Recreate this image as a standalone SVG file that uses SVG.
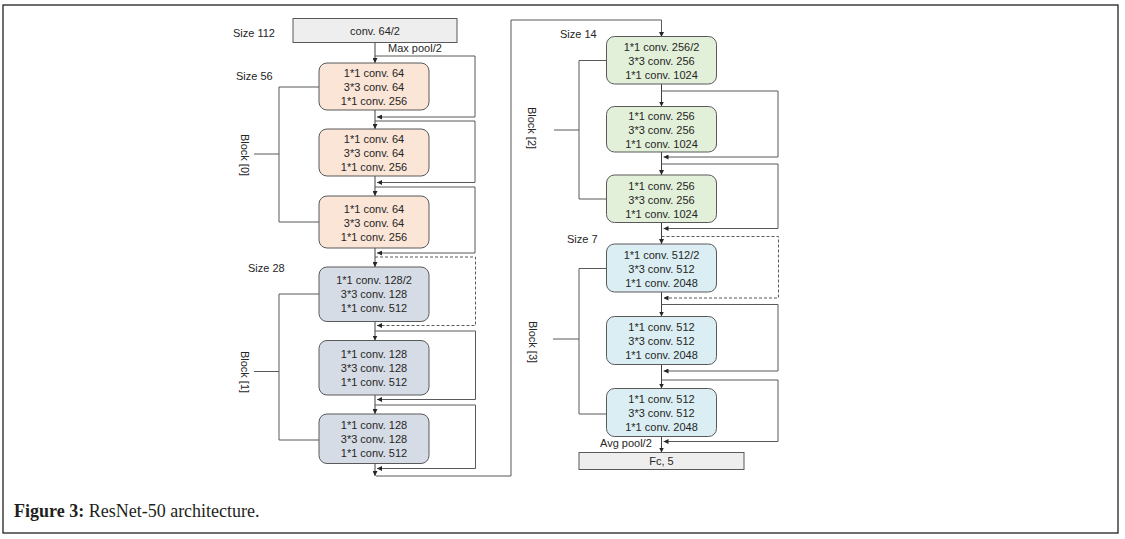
<svg xmlns="http://www.w3.org/2000/svg" width="1125" height="539" viewBox="0 0 1125 539">
<style>
.bg{fill:#ffffff}
.frame{fill:none;stroke:#231f20;stroke-width:1.3}
.box{stroke:#595959;stroke-width:1}
.o{fill:#fbe5d6}
.b{fill:#d6dce5}
.g{fill:#e2f0d9}
.c{fill:#daeef3}
.gr{fill:#eeeeee}
.t{font-family:"Liberation Sans",Arial,sans-serif;font-size:11px;fill:#262626;text-anchor:middle}
.l{font-family:"Liberation Sans",Arial,sans-serif;font-size:11px;fill:#262626}
.ln{fill:none;stroke:#404040;stroke-width:1}
.sk{fill:none;stroke:#595959;stroke-width:1}
.ds{fill:none;stroke:#595959;stroke-width:1;stroke-dasharray:3 2}
.cap{font-family:"Liberation Serif","Times New Roman",serif;font-size:18px;fill:#231f20}
</style>
<defs>
<marker id="ah" viewBox="0 0 6 6" refX="6" refY="3" markerWidth="5" markerHeight="5" markerUnits="userSpaceOnUse" orient="auto">
<path d="M0,0 L6,3 L0,6 Z" fill="#262626"/>
</marker>
</defs>
<rect class="bg" x="0" y="0" width="1125" height="539"/>
<rect class="frame" x="3" y="5" width="1115" height="528"/>

<g id="connectors">
<!-- left column main flow -->
<line class="ln" x1="375" y1="42.5" x2="375" y2="63" marker-end="url(#ah)"/>
<line class="ln" x1="375" y1="110" x2="375" y2="129" marker-end="url(#ah)"/>
<line class="ln" x1="375" y1="176" x2="375" y2="196" marker-end="url(#ah)"/>
<line class="ln" x1="375" y1="248" x2="375" y2="267" marker-end="url(#ah)"/>
<line class="ln" x1="375" y1="321.5" x2="375" y2="340.5" marker-end="url(#ah)"/>
<line class="ln" x1="375" y1="395" x2="375" y2="414" marker-end="url(#ah)"/>
<line class="ln" x1="375" y1="463.5" x2="375" y2="476" marker-end="url(#ah)"/>
<!-- left skips -->
<polyline class="sk" points="375,56 475,56 475,117 377,117" marker-end="url(#ah)"/>
<polyline class="sk" points="375,121 475,121 475,182.5 377,182.5" marker-end="url(#ah)"/>
<polyline class="sk" points="375,187 475,187 475,253 377,253" marker-end="url(#ah)"/>
<polyline class="ds" points="375,257 475.5,257 475.5,325.5 377,325.5" marker-end="url(#ah)"/>
<polyline class="sk" points="375,331 475.5,331 475.5,399.5 377,399.5" marker-end="url(#ah)"/>
<polyline class="sk" points="375,405 475.5,405 475.5,468.5 377,468.5" marker-end="url(#ah)"/>
<!-- link to right column -->
<polyline class="sk" points="376,476 511,476 511,20 661.5,20 661.5,37" marker-end="url(#ah)"/>
<!-- right column main flow -->
<line class="ln" x1="661.5" y1="84" x2="661.5" y2="106.5" marker-end="url(#ah)"/>
<line class="ln" x1="661.5" y1="152" x2="661.5" y2="175" marker-end="url(#ah)"/>
<line class="ln" x1="661.5" y1="222.5" x2="661.5" y2="244" marker-end="url(#ah)"/>
<line class="ln" x1="661.5" y1="292" x2="661.5" y2="316.5" marker-end="url(#ah)"/>
<line class="ln" x1="661.5" y1="364.5" x2="661.5" y2="388.5" marker-end="url(#ah)"/>
<line class="ln" x1="661.5" y1="436.5" x2="661.5" y2="452.5" marker-end="url(#ah)"/>
<!-- right skips -->
<polyline class="sk" points="661.5,91 778,91 778,157 663.5,157" marker-end="url(#ah)"/>
<polyline class="sk" points="661.5,164 778,164 778,228.5 663.5,228.5" marker-end="url(#ah)"/>
<polyline class="ds" points="661.5,236.5 778.5,236.5 778.5,298 663.5,298" marker-end="url(#ah)"/>
<polyline class="sk" points="661.5,304.5 778,304.5 778,371 663.5,371" marker-end="url(#ah)"/>
<polyline class="sk" points="661.5,380 778,380 778,441.5 663.5,441.5" marker-end="url(#ah)"/>
<!-- block brackets -->
<polyline class="sk" points="319,87 279,87 279,222 319,222"/>
<line class="sk" x1="254" y1="154" x2="279" y2="154"/>
<polyline class="sk" points="319,294 279,294 279,440 319,440"/>
<line class="sk" x1="254" y1="371.5" x2="279" y2="371.5"/>
<polyline class="sk" points="607,60.5 579,60.5 579,199 607,199"/>
<line class="sk" x1="554" y1="130" x2="579" y2="130"/>
<polyline class="sk" points="607,268.5 579,268.5 579,414 607,414"/>
<line class="sk" x1="553" y1="339" x2="579" y2="339"/>
</g>

<g id="conv1">
<rect class="box gr" x="293" y="18.5" width="164" height="24"/>
<text class="t" x="375" y="34.5">conv. 64/2</text>
</g>

<g id="b0_1">
<rect class="box o" x="319" y="63" width="110" height="47" rx="8"/>
<text class="t" x="374" y="77.3">1*1 conv. 64</text>
<text class="t" x="374" y="91.3">3*3 conv. 64</text>
<text class="t" x="374" y="105.3">1*1 conv. 256</text>
</g>
<g id="b0_2">
<rect class="box o" x="319" y="129" width="110" height="47" rx="8"/>
<text class="t" x="374" y="143.3">1*1 conv. 64</text>
<text class="t" x="374" y="157.3">3*3 conv. 64</text>
<text class="t" x="374" y="171.3">1*1 conv. 256</text>
</g>
<g id="b0_3">
<rect class="box o" x="319" y="196" width="110" height="52" rx="8"/>
<text class="t" x="374" y="212.8">1*1 conv. 64</text>
<text class="t" x="374" y="226.8">3*3 conv. 64</text>
<text class="t" x="374" y="240.8">1*1 conv. 256</text>
</g>

<g id="b1_1">
<rect class="box b" x="319" y="267" width="110" height="54.5" rx="8"/>
<text class="t" x="374" y="284">1*1 conv. 128/2</text>
<text class="t" x="374" y="298">3*3 conv. 128</text>
<text class="t" x="374" y="312">1*1 conv. 512</text>
</g>
<g id="b1_2">
<rect class="box b" x="319" y="340.5" width="110" height="54.5" rx="8"/>
<text class="t" x="374" y="357.5">1*1 conv. 128</text>
<text class="t" x="374" y="371.5">3*3 conv. 128</text>
<text class="t" x="374" y="385.5">1*1 conv. 512</text>
</g>
<g id="b1_3">
<rect class="box b" x="319" y="414" width="110" height="49.5" rx="8"/>
<text class="t" x="374" y="428.5">1*1 conv. 128</text>
<text class="t" x="374" y="442.5">3*3 conv. 128</text>
<text class="t" x="374" y="456.5">1*1 conv. 512</text>
</g>

<g id="b2_1">
<rect class="box g" x="606.5" y="36.5" width="110" height="47.5" rx="8"/>
<text class="t" x="661.5" y="51">1*1 conv. 256/2</text>
<text class="t" x="661.5" y="65">3*3 conv. 256</text>
<text class="t" x="661.5" y="79">1*1 conv. 1024</text>
</g>
<g id="b2_2">
<rect class="box g" x="606.5" y="106.5" width="110" height="45.5" rx="8"/>
<text class="t" x="661.5" y="120">1*1 conv. 256</text>
<text class="t" x="661.5" y="134">3*3 conv. 256</text>
<text class="t" x="661.5" y="148">1*1 conv. 1024</text>
</g>
<g id="b2_3">
<rect class="box g" x="606.5" y="175" width="110" height="47.5" rx="8"/>
<text class="t" x="661.5" y="189.5">1*1 conv. 256</text>
<text class="t" x="661.5" y="203.5">3*3 conv. 256</text>
<text class="t" x="661.5" y="217.5">1*1 conv. 1024</text>
</g>

<g id="b3_1">
<rect class="box c" x="606.5" y="244" width="110" height="48" rx="8"/>
<text class="t" x="661.5" y="258.5">1*1 conv. 512/2</text>
<text class="t" x="661.5" y="272.5">3*3 conv. 512</text>
<text class="t" x="661.5" y="286.5">1*1 conv. 2048</text>
</g>
<g id="b3_2">
<rect class="box c" x="606.5" y="316.5" width="110" height="48" rx="8"/>
<text class="t" x="661.5" y="330.5">1*1 conv. 512</text>
<text class="t" x="661.5" y="344.5">3*3 conv. 512</text>
<text class="t" x="661.5" y="358.5">1*1 conv. 2048</text>
</g>
<g id="b3_3">
<rect class="box c" x="606.5" y="388.5" width="110" height="48" rx="8"/>
<text class="t" x="661.5" y="402.5">1*1 conv. 512</text>
<text class="t" x="661.5" y="416.5">3*3 conv. 512</text>
<text class="t" x="661.5" y="430.5">1*1 conv. 2048</text>
</g>

<g id="fc">
<rect class="box gr" x="579" y="452.5" width="165" height="17"/>
<text class="t" x="661.5" y="465">Fc, 5</text>
</g>

<g id="labels">
<text class="l" x="233" y="37">Size 112</text>
<text class="l" x="236" y="80">Size 56</text>
<text class="l" x="248" y="272">Size 28</text>
<text class="l" x="560" y="38">Size 14</text>
<text class="l" x="567" y="243">Size 7</text>
<text class="l" x="388" y="52">Max pool/2</text>
<text class="l" x="600" y="447">Avg pool/2</text>
<text class="t" transform="translate(241,155) rotate(90)">Block [0]</text>
<text class="t" transform="translate(241,372) rotate(90)">Block [1]</text>
<text class="t" transform="translate(528,128) rotate(90)">Block [2]</text>
<text class="t" transform="translate(529,342) rotate(90)">Block [3]</text>
</g>

<g id="caption">
<text class="cap" x="14" y="517"><tspan font-weight="bold">Figure 3:</tspan> ResNet-50 architecture.</text>
</g>
</svg>
